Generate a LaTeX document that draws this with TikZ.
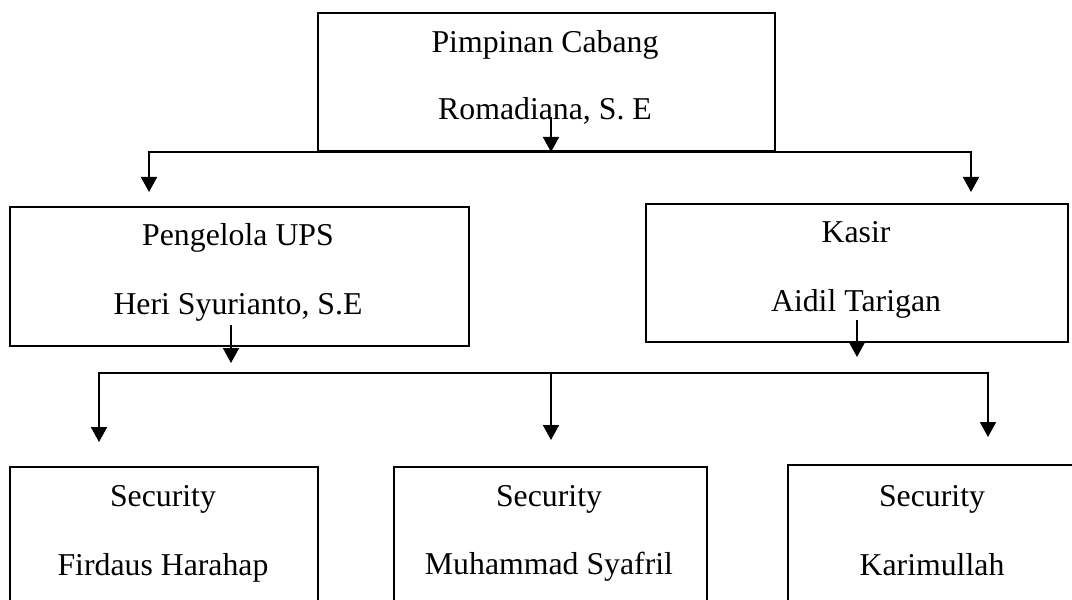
\documentclass[tikz,border=0pt]{standalone}
\usepackage{fontspec}
\setmainfont{Liberation Serif}
\usetikzlibrary{arrows.meta}
\newcommand{\orgfont}{\fontsize{22.6}{27}\selectfont}
\tikzset{
  box/.style={draw, rectangle, line width=1.1pt, anchor=north west, inner sep=0pt},
  lbl/.style={anchor=base, inner sep=0pt, font=\orgfont},
  link/.style={line width=1.3pt, line cap=rect},
  arr/.style={-{Triangle[length=0.375cm, width=0.4cm]}, line width=1.3pt},
}

\begin{document}
\begin{tikzpicture}[x=0.025cm, y=-0.025cm]
    \clip (0,0) rectangle (1072,599);
    \node[box, minimum width=11.425cm, minimum height=3.45cm] (pimpinan) at (317,12) {};
    \node[box, minimum width=11.475cm, minimum height=3.475cm] (ups) at (9,206) {};
    \node[box, minimum width=10.55cm, minimum height=3.45cm] (kasir) at (645,203) {};
    \node[box, minimum width=7.7cm, minimum height=4.4cm] (sec1) at (9,466) {};
    \node[box, minimum width=7.825cm, minimum height=4.4cm] (sec2) at (393,466) {};
    \node[box, minimum width=7.25cm, minimum height=4.4cm] (sec3) at (787,464) {};
    \node[lbl] (pimpinanA) at (545,52) {Pimpinan Cabang};
    \node[lbl] (pimpinanB) at (545,119) {Romadiana, S. E};
    \node[lbl] (upsA) at (238,245) {Pengelola UPS};
    \node[lbl] (upsB) at (238,314) {Heri Syurianto, S.E};
    \node[lbl] (kasirA) at (856,242) {Kasir};
    \node[lbl] (kasirB) at (856,311) {Aidil Tarigan};
    \node[lbl] (sec1A) at (163,506) {Security};
    \node[lbl] (sec1B) at (163,575) {Firdaus Harahap};
    \node[lbl] (sec2A) at (549,506) {Security};
    \node[lbl] (sec2B) at (549,574) {Muhammad Syafril};
    \node[lbl] (sec3A) at (932,506) {Security};
    \node[lbl] (sec3B) at (932,575) {Karimullah};
    \coordinate (pcout) at (551,117);
    \coordinate (bustop) at (551,152);
    \coordinate (bustopL) at (149,152);
    \coordinate (bustopR) at (971,152);
    \coordinate (upsin) at (149,192);
    \coordinate (kasirin) at (971,192);
    \coordinate (upsout) at (231,325);
    \coordinate (upsbus) at (231,363);
    \coordinate (kasirout) at (857,320);
    \coordinate (kasirbus) at (857,357);
    \coordinate (busL) at (99,373);
    \coordinate (busM) at (551,373);
    \coordinate (busR) at (988,373);
    \coordinate (sec1in) at (99,442);
    \coordinate (sec2in) at (551,440);
    \coordinate (sec3in) at (988,437);
    \draw[arr] (pcout) -- (bustop);
    \draw[link] (bustopL) -- (bustopR);
    \draw[arr] (bustopL) -- (upsin);
    \draw[arr] (bustopR) -- (kasirin);
    \draw[arr] (upsout) -- (upsbus);
    \draw[arr] (kasirout) -- (kasirbus);
    \draw[link] (busL) -- (busR);
    \draw[arr] (busL) -- (sec1in);
    \draw[arr] (busM) -- (sec2in);
    \draw[arr] (busR) -- (sec3in);
\end{tikzpicture}
\end{document}
